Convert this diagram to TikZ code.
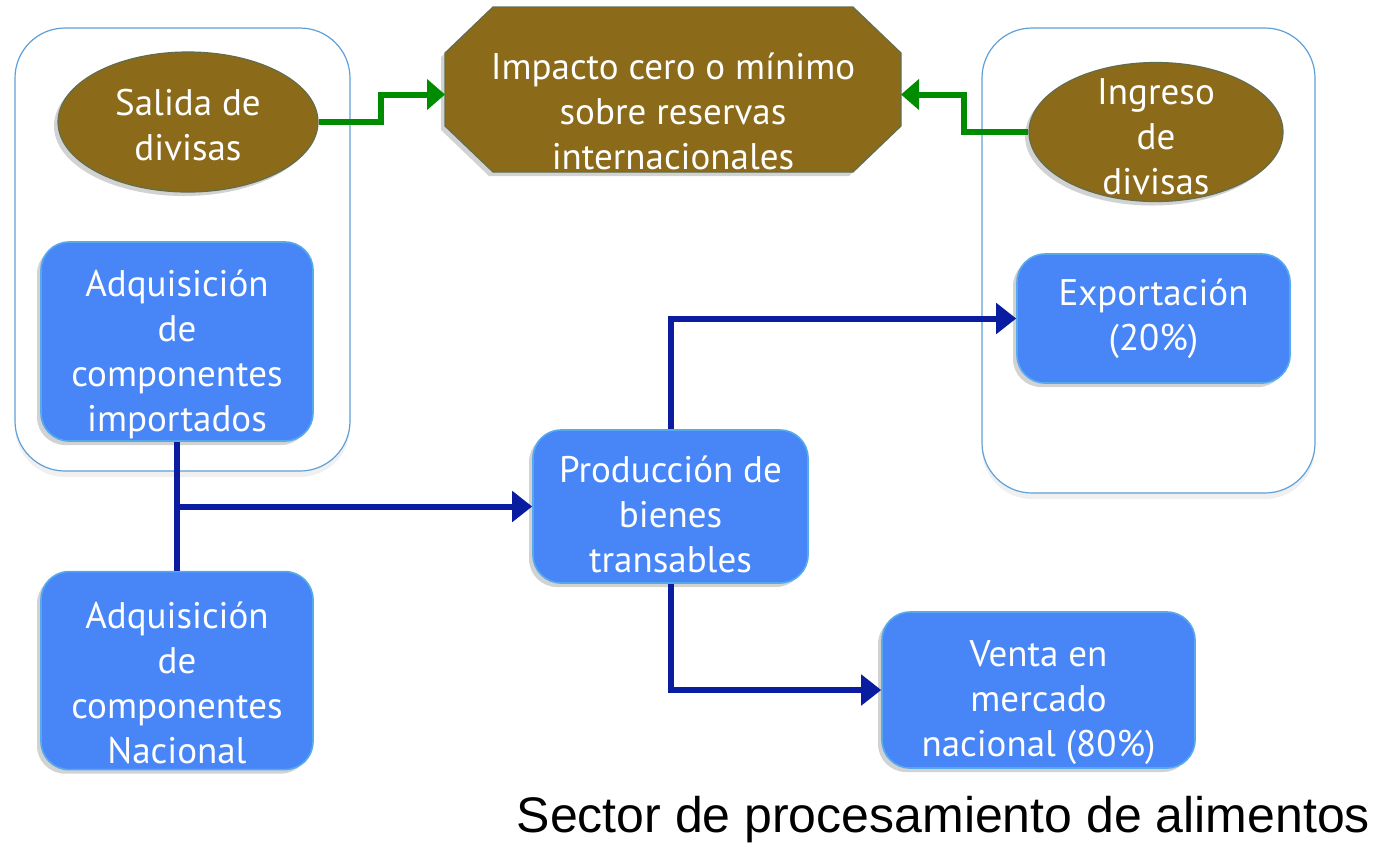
\documentclass[tikz,border=0pt]{standalone}
\usepackage{fontspec}
\setmainfont{PT Sans}
\newfontfamily\titlefont{Liberation Sans}
\usetikzlibrary{positioning,arrows.meta,shapes.geometric,shadows}

\definecolor{cafe}{RGB}{139,106,26}
\definecolor{cafeborde}{RGB}{96,110,78}
\definecolor{azulcaja}{RGB}{72,134,247}
\definecolor{azulborde}{RGB}{86,170,235}
\definecolor{azulmarco}{RGB}{95,160,215}
\definecolor{azulflecha}{RGB}{10,28,160}
\definecolor{verdeflecha}{RGB}{0,140,0}

\tikzset{
  sombra/.style={drop shadow={shadow xshift=-2pt,shadow yshift=-2pt,opacity=0.25,fill=black!70}},
  marco/.style={draw=azulmarco,line width=0.6pt,fill=white,rounded corners=25pt,drop shadow={shadow xshift=0pt,shadow yshift=-3pt,opacity=0.12}},
  letra/.style={text=white,align=center,inner sep=0pt,font=\fontsize{18.5}{22.5}\selectfont},
  caja/.style={draw=azulborde,line width=0.8pt,fill=azulcaja,rounded corners=14pt,sombra},
  elipse/.style={ellipse,draw=cafeborde,line width=0.6pt,fill=cafe,inner sep=0pt,sombra},
  octa/.style={draw=cafeborde,line width=0.6pt,fill=cafe,sombra},
  lineaazul/.style={line width=3pt,draw=azulflecha},
  flechaazul/.style={lineaazul,-{Triangle[length=10pt,width=15pt]}},
  flechaverde/.style={line width=3pt,draw=verdeflecha,-{Triangle[length=9pt,width=15pt]}}
}

\begin{document}
\begin{tikzpicture}[x=0.5pt,y=0.5pt]
\useasboundingbox (0,0) rectangle (1374,-848);
\begin{scope}


\node [marco,minimum width=167.5pt,minimum height=221.5pt](node0-1) at (182.5,-249.5){};
\node [marco,minimum width=166.5pt,minimum height=232.5pt](node0-2) at (1148.5,-260.5){};

\node [elipse,minimum width=130pt,minimum height=70pt,label={[letra,yshift=-1.5pt]center:Salida de\\divisas}](node1) at (188,-122){};
\node [minimum width=228pt,minimum height=82.5pt,outer sep=0pt](node2) at (673,-89.5){};
\filldraw[octa]([xshift=24pt]node2.north west)--([xshift=-24pt]node2.north east)--([yshift=-23pt]node2.north east)--([yshift=23pt]node2.south east)--([xshift=-24pt]node2.south east)--([xshift=24pt]node2.south west)--([yshift=23pt]node2.south west)--([yshift=-23pt]node2.north west)--cycle;
\node [letra](node2-1) at ([yshift=-11pt]node2.center){Impacto cero o mínimo\\sobre reservas\\internacionales};
\node [elipse,minimum width=127pt,minimum height=69.5pt,label={[letra,yshift=-2.5pt]center:Ingreso\\de\\divisas}](node3) at (1156,-132){};
\draw[flechaverde](node1.east)--([xshift=31pt]node1.east)|-([yshift=-2.5pt]node2.west);
\draw[flechaverde](node3.west)--([xshift=-32pt]node3.west)|-([yshift=-2.5pt]node2.east);

\node [caja,minimum width=136pt,minimum height=99.5pt,label={[letra,yshift=-6.5pt]center:Adquisición\\de\\componentes\\importados}](node4) at (177,-341.5){};
\node [caja,anchor=north,minimum width=136pt,minimum height=99pt,label={[letra,yshift=-6pt]center:Adquisición\\de\\componentes\\Nacional}](node5) at ([yshift=-64.5pt]node4.south){};
\node [caja,minimum width=137.5pt,minimum height=76.5pt,label={[letra,yshift=-4pt]center:Producción de\\bienes\\transables}](node6) at (670.5,-506.5){};
\node [caja,minimum width=136.5pt,minimum height=64.5pt,label={[letra]center:Exportación\\(20\%)}](node7) at (1153.5,-318.5){};
\node [caja,minimum width=156.5pt,minimum height=78pt,label={[letra,yshift=-6.5pt]center:Venta en\\mercado\\nacional (80\%)}](node8) at (1038.5,-690){};

\draw[lineaazul](node4.south)--(node5.north);
\draw[flechaazul](node4.south |- node6.west)--(node6.west);
\draw[flechaazul](node6.north)|-(node7.west);
\draw[flechaazul](node6.south)|-(node8.west);

\node [anchor=base east,font=\titlefont\fontsize{25}{30}\selectfont](node9) at (1377,-832){Sector de procesamiento de alimentos};


\end{scope}
\end{tikzpicture}
\end{document}
